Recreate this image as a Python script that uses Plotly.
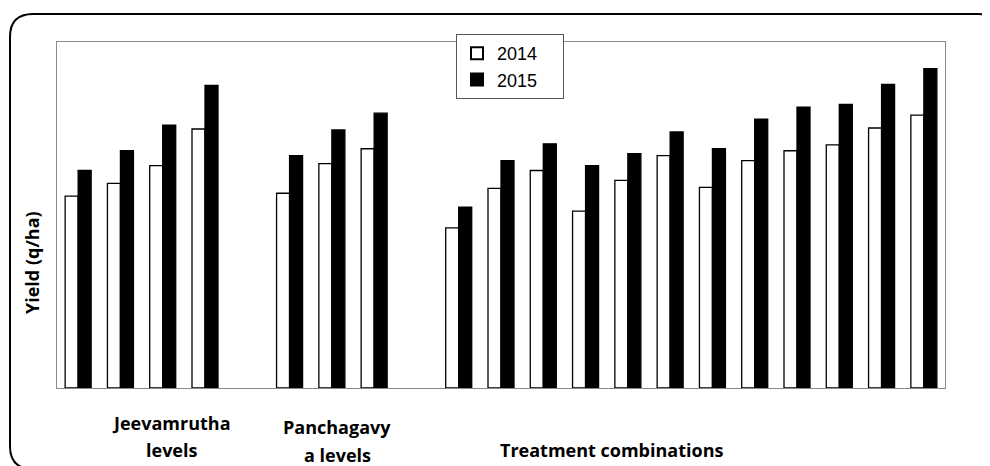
import plotly.graph_objects as go

# ---- data (heights in q/ha-like units) ----
categories = ["J1", "J2", "J3", "J4", " ",
              "P1", "P2", "P3", "  ",
              "T1", "T2", "T3", "T4", "T5", "T6", "T7", "T8", "T9", "T10", "T11", "T12"]
y2014 = [19.4, 20.7, 22.5, 26.2, None,
         19.7, 22.7, 24.2, None,
         16.2, 20.2, 22.0, 17.9, 21.0, 23.5, 20.3, 23.0, 24.0, 24.6, 26.3, 27.6]
y2015 = [22.0, 24.0, 26.6, 30.6, None,
         23.5, 26.1, 27.8, None,
         18.3, 23.0, 24.7, 22.5, 23.7, 25.9, 24.2, 27.2, 28.4, 28.7, 30.7, 32.3]
series_names = ["2014", "2015"]
group_labels = [["Jeevamrutha", "levels"], ["Panchagavy", "a levels"], ["Treatment combinations"]]
y_title = "Yield (q/ha)"

# page has an 8px body margin; plot area in page pixels: x 57..945, y 42..388
OFF = 8
W, H = 990 - OFF, 466 - OFF
PL, PR, PT, PB = 57, 945, 42, 388
pw, ph = PR - PL, PB - PT

def px(x):
    return (x - PL) / pw

def py(y):
    return (PB - y) / ph

fig = go.Figure()
fig.add_trace(go.Bar(x=categories, y=y2014, name=series_names[0] + "\u00a0" * 4,
                     marker=dict(color="white", line=dict(color="black", width=1.3))))
fig.add_trace(go.Bar(x=categories, y=y2015, name=series_names[1] + "\u00a0" * 4,
                     marker=dict(color="black", line=dict(color="black", width=1.3))))

# rounded outer frame (page pixel positions)
x0, x1, y0, y1, r = 10, 1001, 14, 469, 23
path = (f"M{px(x0+r)},{py(y0)} L{px(x1-r)},{py(y0)} Q{px(x1)},{py(y0)} {px(x1)},{py(y0+r)} "
        f"L{px(x1)},{py(y1-r)} Q{px(x1)},{py(y1)} {px(x1-r)},{py(y1)} "
        f"L{px(x0+r)},{py(y1)} Q{px(x0)},{py(y1)} {px(x0)},{py(y1-r)} "
        f"L{px(x0)},{py(y0+r)} Q{px(x0)},{py(y0)} {px(x0+r)},{py(y0)} Z")
fig.add_shape(type="path", path=path, xref="paper", yref="paper",
              line=dict(color="black", width=2), layer="above")

lab_font = dict(family="Open Sans", size=18, color="black")
label_pos = [[(171, 423), (171, 450)], [(337, 427), (337, 455)], [(611, 450)]]
for lines, poss in zip(group_labels, label_pos):
    for txt, (lx, ly) in zip(lines, poss):
        fig.add_annotation(text=f"<b>{txt}</b>", x=px(lx), y=py(ly), xref="paper", yref="paper",
                           xanchor="center", yanchor="middle",
                           showarrow=False, font=lab_font)
fig.add_annotation(text=f"<b>{y_title}</b>", x=px(32), y=py(263), xref="paper", yref="paper",
                   xanchor="center", yanchor="middle",
                   showarrow=False, font=lab_font, textangle=-90)

fig.update_layout(
    width=W, height=H,
    margin=dict(l=PL - OFF, r=W - (PR - OFF), t=PT - OFF, b=H - (PB - OFF)),
    paper_bgcolor="white", plot_bgcolor="white",
    barmode="group", bargap=0.385, bargroupgap=0,
    xaxis=dict(type="category", categoryorder="array", categoryarray=categories,
               showticklabels=False, ticks="", showgrid=False, zeroline=False,
               showline=True, linecolor="#8a8a8a", linewidth=1, mirror=True, fixedrange=True),
    yaxis=dict(range=[0, 35], showticklabels=False, ticks="", showgrid=False, zeroline=False,
               showline=True, linecolor="#8a8a8a", linewidth=1, mirror=True),
    legend=dict(x=px(456), y=py(34), xanchor="left", yanchor="top",
                bgcolor="white", bordercolor="#555555", borderwidth=1,
                font=dict(family="Liberation Sans", size=18, color="black"),
                tracegroupgap=0, itemsizing="constant"),
    showlegend=True,
)

fig.write_html("out.html")
